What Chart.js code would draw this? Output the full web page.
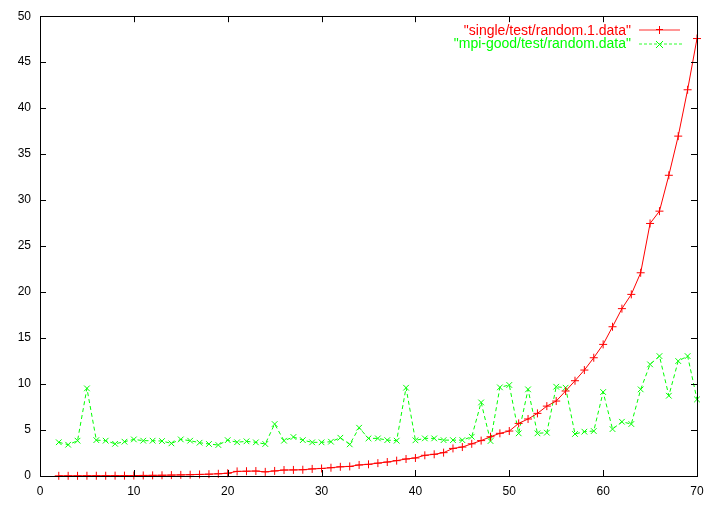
<!DOCTYPE html>
<html>
<head>
<meta charset="utf-8">
<script src="https://cdn.jsdelivr.net/npm/chart.js@4"></script>
<style>
  html, body { margin: 0; padding: 0; background: #fff; }
  #wrap { width: 721px; height: 505px; }
</style>
</head>
<body>
<div id="wrap"><canvas id="chart"></canvas></div>
<script>
const xs = [2, 3, 4, 5, 6, 7, 8, 9, 10, 11, 12, 13, 14, 15, 16, 17, 18, 19, 20, 21, 22, 23, 24, 25, 26,
  27, 28, 29, 30, 31, 32, 33, 34, 35, 36, 37, 38, 39, 40, 41, 42, 43, 44, 45, 46, 47, 48, 49, 50,
  51, 52, 53, 54, 55, 56, 57, 58, 59, 60, 61, 62, 63, 64, 65, 66, 67, 68, 69, 70];

const single = [0.02, 0.02, 0.02, 0.03, 0.03, 0.03, 0.04, 0.04, 0.05, 0.06, 0.07, 0.08, 0.1, 0.12,
  0.14, 0.17, 0.2, 0.24, 0.3, 0.5, 0.52, 0.54, 0.45, 0.55, 0.65, 0.66, 0.68, 0.77, 0.82, 0.9, 1.0,
  1.04, 1.2, 1.27, 1.4, 1.52, 1.67, 1.85, 1.96, 2.25, 2.36, 2.54, 3.0, 3.15, 3.5, 3.85, 4.27, 4.64,
  4.89, 5.72, 6.2, 6.81, 7.6, 8.15, 9.24, 10.36, 11.52, 12.86, 14.31, 16.23, 18.2, 19.75, 22.1,
  27.46, 28.8, 32.7, 36.96, 42.0, 47.57];

const mpiGood = [3.67, 3.4, 3.84, 9.53, 3.9, 3.84, 3.5, 3.73, 3.98, 3.84, 3.84, 3.8, 3.55, 3.98, 3.84,
  3.62, 3.48, 3.37, 3.9, 3.67, 3.77, 3.66, 3.48, 5.65, 3.84, 4.24, 3.9, 3.66, 3.66, 3.73, 4.16, 3.44,
  5.25, 4.09, 4.09, 3.9, 3.84, 9.6, 3.88, 4.09, 4.09, 3.9, 3.9, 3.9, 4.27, 8.0, 3.8, 9.64, 9.9, 4.64,
  9.42, 4.64, 4.71, 9.71, 9.6, 4.57, 4.82, 4.89, 9.13, 5.1, 5.9, 5.65, 9.42, 12.14, 13.04, 8.73,
  12.5, 13.04, 8.33];

const seriesNames = ['"single/test/random.1.data"', '"mpi-good/test/random.data"'];
const xTicks = [0, 10, 20, 30, 40, 50, 60, 70];
const yTicks = [0, 5, 10, 15, 20, 25, 30, 35, 40, 45, 50];

const RED = '#ff0000';
const GREEN = '#00ff00';
const FONT = '"Liberation Sans", Arial, sans-serif';

// gnuplot-like frame with inward ticks on all four sides
const frame = {
  id: 'frame',
  afterDatasetsDraw(chart) {
    const { ctx, chartArea: a, scales: { x, y } } = chart;
    ctx.save();
    ctx.strokeStyle = '#000';
    ctx.lineWidth = 1;
    ctx.setLineDash([]);
    ctx.strokeRect(Math.round(a.left) + 0.5, Math.round(a.top) + 0.5,
      Math.round(a.right - a.left), Math.round(a.bottom - a.top));
    ctx.beginPath();
    xTicks.forEach(v => {
      const px = Math.round(x.getPixelForValue(v)) + 0.5;
      ctx.moveTo(px, a.bottom); ctx.lineTo(px, a.bottom - 6);
      ctx.moveTo(px, a.top); ctx.lineTo(px, a.top + 6);
    });
    yTicks.forEach(v => {
      const py = Math.round(y.getPixelForValue(v)) + 0.5;
      ctx.moveTo(a.left, py); ctx.lineTo(a.left + 6, py);
      ctx.moveTo(a.right, py); ctx.lineTo(a.right - 6, py);
    });
    ctx.stroke();
    ctx.restore();
  }
};

// legend in the top right, text right-aligned before the sample line
const keyBox = {
  id: 'keyBox',
  afterDatasetsDraw(chart) {
    const ctx = chart.ctx;
    ctx.save();
    ctx.font = '14px ' + FONT;
    ctx.textAlign = 'right';
    ctx.textBaseline = 'middle';

    // red entry: soft solid line with "+" marker
    ctx.fillStyle = RED;
    ctx.fillText(seriesNames[0], 631, 31);
    ctx.fillStyle = 'rgb(255, 150, 150)';
    ctx.fillRect(639, 29, 41, 2);
    ctx.fillStyle = RED;
    ctx.fillRect(659, 26, 1, 8);
    ctx.fillRect(656, 29, 7, 1);

    // green entry: dashed line with "x" marker
    ctx.fillStyle = GREEN;
    ctx.fillText(seriesNames[1], 631, 44);
    ctx.fillStyle = 'rgb(150, 255, 150)';
    for (let px = 639; px < 680; px += 5) {
      ctx.fillRect(px, 43, 3, 2);
    }
    ctx.strokeStyle = GREEN;
    ctx.lineWidth = 1;
    ctx.beginPath();
    ctx.moveTo(656, 41); ctx.lineTo(663, 48);
    ctx.moveTo(663, 41); ctx.lineTo(656, 48);
    ctx.stroke();
    ctx.restore();
  }
};

new Chart(document.getElementById('chart'), {
  type: 'line',
  data: {
    datasets: [
      {
        label: seriesNames[0],
        data: xs.map((x, i) => ({ x: x, y: single[i] })),
        borderColor: RED,
        backgroundColor: RED,
        borderWidth: 1,
        pointStyle: 'cross',
        pointRadius: 4,
        pointBorderWidth: 1,
        pointBorderColor: RED,
        tension: 0,
        clip: false
      },
      {
        label: seriesNames[1],
        data: xs.map((x, i) => ({ x: x, y: mpiGood[i] })),
        borderColor: GREEN,
        backgroundColor: GREEN,
        borderWidth: 1,
        borderDash: [4, 3],
        pointStyle: 'crossRot',
        pointRadius: 4,
        pointBorderWidth: 1,
        pointBorderColor: GREEN,
        tension: 0,
        clip: false
      }
    ]
  },
  options: {
    responsive: true,
    maintainAspectRatio: false,
    animation: false,
    layout: { padding: { top: 16, right: 24, left: 0, bottom: 0 } },
    plugins: {
      legend: { display: false },
      tooltip: { enabled: false }
    },
    scales: {
      x: {
        type: 'linear',
        min: 0,
        max: 70,
        afterFit: s => { s.height = 29; },
        afterBuildTicks: s => { s.ticks = xTicks.map(v => ({ value: v })); },
        grid: { display: false, drawTicks: false },
        border: { display: false },
        ticks: { color: '#000', padding: 8, maxRotation: 0, font: { family: FONT, size: 12 } }
      },
      y: {
        min: 0,
        max: 50,
        afterFit: s => { s.width = 40; },
        afterBuildTicks: s => { s.ticks = yTicks.map(v => ({ value: v })); },
        grid: { display: false, drawTicks: false },
        border: { display: false },
        ticks: { color: '#000', padding: 9, font: { family: FONT, size: 12 } }
      }
    }
  },
  plugins: [frame, keyBox]
});
</script>
</body>
</html>
